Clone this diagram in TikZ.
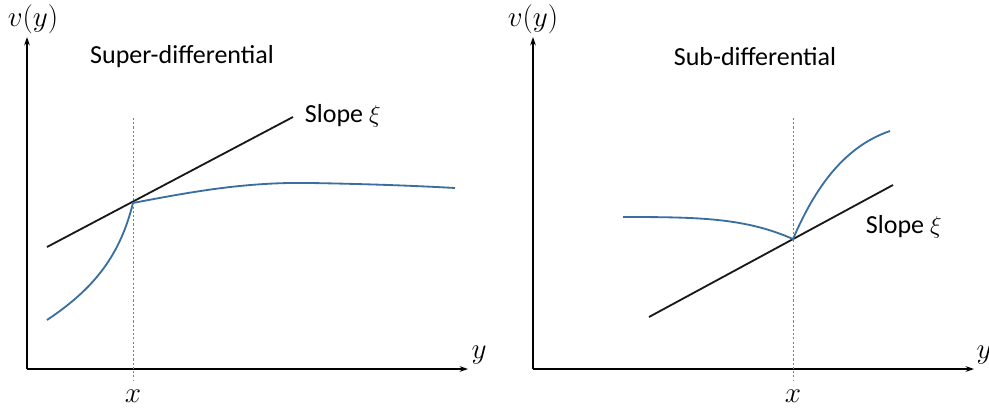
\documentclass[tikz,border=0pt]{standalone}
\usepackage{fontspec}
\setmainfont{Carlito}
\usetikzlibrary{arrows.meta}

\tikzset{
  axis/.style={draw, line width=0.8pt, -{Stealth[length=6pt,width=4pt]}},
  guide/.style={draw, gray, dashed, line width=0.4pt, dash pattern=on 1.5pt off 1.5pt},
  tangent/.style={draw, black!90, line width=1.3pt},
  valfun/.style={draw, color={rgb,255:red,58;green,110;blue,160}, line width=1.3pt},
  lbl/.style={font=\fontsize{18.5}{22}\selectfont},
  mlbl/.style={font=\fontsize{20}{24}\selectfont}
}

\begin{document}
\begin{tikzpicture}[x=0.025cm, y=-0.025cm]
  \useasboundingbox (0,0) rectangle (989,408);

  % left panel: super-differential
  \coordinate (o1) at (27,369);
  \coordinate (ytip1) at (27,37);
  \coordinate (xtip1) at (468,369);
  \coordinate (k1) at (133,203);
  \coordinate (gtop1) at (133,118);
  \coordinate (gbot1) at (133,380);
  \coordinate (ta1) at (47,247);
  \coordinate (tb1) at (293,117);
  \draw[axis] (o1) -- (ytip1);
  \draw[axis] (o1) -- (xtip1);
  \node[mlbl] (v1) at (33,19) {$v(y)$};
  \node[mlbl] (y1) at (479,355) {$y$};
  \node[mlbl] (x1) at (133,396) {$x$};
  \node[lbl] (t1) at (182,57) {Super-differential};
  \node[lbl, anchor=west] (s1) at (300,116) {Slope $\xi$};
  \draw[guide] (gtop1) -- (gbot1);
  \draw[tangent] (ta1) -- (tb1);
  \draw[valfun] (47,320) .. controls (95,288) and (120,255) .. (k1)
    .. controls (200,190) and (250,182) .. (310,183)
    .. controls (370,184) and (420,186) .. (455,188);

  % right panel: sub-differential
  \coordinate (o2) at (533,369);
  \coordinate (ytip2) at (533,37);
  \coordinate (xtip2) at (974,369);
  \coordinate (k2) at (793,239);
  \coordinate (gtop2) at (793,118);
  \coordinate (gbot2) at (793,380);
  \coordinate (ta2) at (649,317);
  \coordinate (tb2) at (893,185);
  \draw[axis] (o2) -- (ytip2);
  \draw[axis] (o2) -- (xtip2);
  \node[mlbl] (v2) at (533,19) {$v(y)$};
  \node[mlbl] (y2) at (984,355) {$y$};
  \node[mlbl] (x2) at (793,396) {$x$};
  \node[lbl] (t2) at (755,57) {Sub-differential};
  \node[lbl, anchor=west] (s2) at (861,227) {Slope $\xi$};
  \draw[guide] (gtop2) -- (gbot2);
  \draw[tangent] (ta2) -- (tb2);
  \draw[valfun] (623,217) .. controls (700,217) and (745,218) .. (k2)
    .. controls (812,195) and (840,148) .. (890,131);
\end{tikzpicture}
\end{document}
